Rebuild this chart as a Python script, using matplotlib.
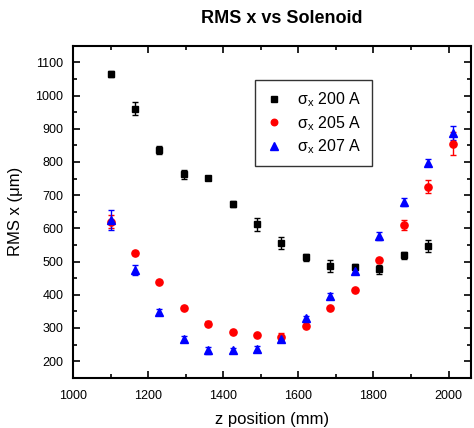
import matplotlib
matplotlib.use('Agg')
import matplotlib.pyplot as plt
from matplotlib.ticker import MultipleLocator

plt.rcParams['font.family'] = ['Liberation Sans', 'DejaVu Sans']

# z positions (mm)
z = [1100, 1165, 1230, 1295, 1360, 1425, 1490, 1555, 1620, 1685, 1750, 1815, 1880, 1945, 2012]

# 200 A (no point at the last z)
rms_200 = [1065, 961, 836, 763, 751, 673, 612, 557, 513, 487, 484, 477, 519, 548]
err_200 = [8, 20, 13, 14, 5, 8, 20, 18, 10, 18, 10, 14, 10, 18]

# 205 A
rms_205 = [620, 526, 439, 361, 313, 288, 279, 274, 307, 359, 413, 504, 609, 726, 855]
err_205 = [20, 6, 5, 5, 8, 5, 4, 10, 6, 5, 5, 6, 15, 20, 35]

# 207 A
rms_207 = [625, 474, 348, 267, 232, 233, 238, 267, 329, 397, 473, 577, 678, 798, 887]
err_207 = [30, 15, 8, 10, 10, 8, 8, 10, 8, 8, 10, 12, 12, 10, 20]

fig = plt.figure(figsize=(4.74, 4.28), dpi=100)
ax = fig.add_axes([0.154, 0.1175, 0.84, 0.7755])

e1 = ax.errorbar(z[:len(rms_200)], rms_200, yerr=err_200, fmt='s', color='black',
                 markersize=5, capsize=2.2, elinewidth=1, capthick=1)
e2 = ax.errorbar(z, rms_205, yerr=err_205, fmt='o', color='red',
                 markersize=5.2, capsize=2.2, elinewidth=1, capthick=1)
e3 = ax.errorbar(z, rms_207, yerr=err_207, fmt='^', color='blue',
                 markersize=5.8, capsize=2.2, elinewidth=1, capthick=1)

ax.set_xlim(1000, 2060)
ax.set_ylim(150, 1150)
ax.xaxis.set_major_locator(MultipleLocator(200))
ax.xaxis.set_minor_locator(MultipleLocator(100))
ax.yaxis.set_major_locator(MultipleLocator(100))
ax.yaxis.set_minor_locator(MultipleLocator(50))
ax.tick_params(which='both', direction='in', top=True, right=True, labelsize=9)
ax.tick_params(which='major', length=5, width=1.2)
ax.tick_params(which='minor', length=3, width=1.2)
ax.tick_params(axis='x', pad=9)
ax.tick_params(axis='y', pad=7)
for s in ax.spines.values():
    s.set_linewidth(1.5)

ax.set_xlabel('z position (mm)', fontsize=12, labelpad=7)
ax.set_ylabel('RMS x (\u03bcm)', fontsize=12, labelpad=9)
fig.text(0.594, 0.957, 'RMS x vs Solenoid', fontsize=13, fontweight='bold',
         ha='center', va='center')

handles = [e1[0], e2[0], e3[0]]
labels = [r'$\mathregular{\sigma_x}$ 200 A', r'$\mathregular{\sigma_x}$ 205 A',
          r'$\mathregular{\sigma_x}$ 207 A']
leg = ax.legend(handles, labels, loc='upper left', bbox_to_anchor=(0.458, 0.897),
                borderaxespad=0, fontsize=11.5, frameon=True, fancybox=False,
                edgecolor='black', handlelength=1.0, handletextpad=0.95,
                borderpad=0.65, labelspacing=0.3, markerscale=0.9)
leg.get_frame().set_linewidth(1)

fig.savefig('out.png', dpi=100)
